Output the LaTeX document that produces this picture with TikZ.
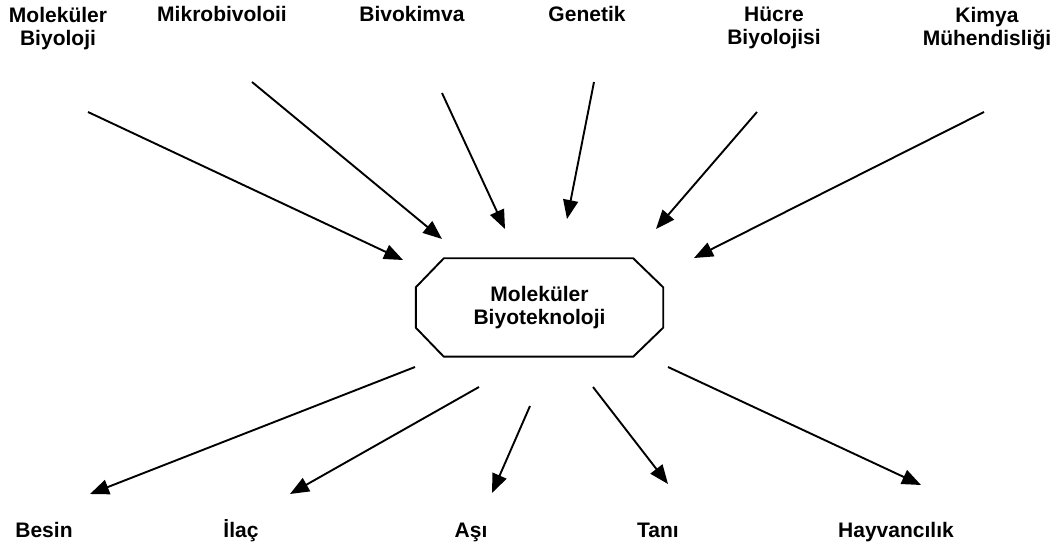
\documentclass[tikz,border=0pt]{standalone}
\usepackage{fontspec}
\setmainfont{Liberation Sans}
\usetikzlibrary{arrows.meta}

\tikzset{
  label/.style={inner sep=0pt, font=\fontsize{21}{23.5}\selectfont\bfseries, align=center},
  flow/.style={line width=1.9pt, -{Triangle[length=19pt,width=15pt]}},
  rim/.style={line width=1.9pt, line join=miter}
}

\begin{document}
\begin{tikzpicture}[x=1pt, y=-1pt]
  \useasboundingbox (0,0) rectangle (1061,545);

  % source fields
  \node[label, anchor=north] (molbio)  at (58,6.7)   {Moleküler\\Biyoloji};
  \node[label, anchor=base]  (mikro)   at (222,22)   {Mikrobivoloii};
  \node[label, anchor=base]  (biyokim) at (412,22)   {Bivokimva};
  \node[label, anchor=base]  (genetik) at (587,22)   {Genetik};
  \node[label, anchor=north] (hucre)   at (774,6.7)  {Hücre\\Biyolojisi};
  \node[label, anchor=north] (kimya)   at (987,6.7)  {Kimya\\Mühendisliği};

  % application fields
  \node[label, anchor=base] (besin) at (44,537)  {Besin};
  \node[label, anchor=base] (ilac)  at (241,537) {İlaç};
  \node[label, anchor=base] (asi)   at (471,537) {Aşı};
  \node[label, anchor=base] (tani)  at (658,537) {Tanı};
  \node[label, anchor=base] (hayv)  at (896,537) {Hayvancılık};

  % central octagon
  \node[label, minimum width=247pt, minimum height=98pt] (core) at (539.5,307.5)
    {Moleküler\\Biyoteknoloji};
  \draw[rim] ([xshift=28pt]core.north west) -- ([xshift=-30pt]core.north east)
    -- ([yshift=-29pt]core.north east) -- ([yshift=29pt]core.south east)
    -- ([xshift=-30pt]core.south east) -- ([xshift=28pt]core.south west)
    -- ([yshift=29pt]core.south west) -- ([yshift=-29pt]core.north west) -- cycle;

  % arrow ends, incoming
  \coordinate (s1) at (88,112);   \coordinate (t1) at (403,260);
  \coordinate (s2) at (252,82);   \coordinate (t2) at (442,239);
  \coordinate (s3) at (442,93);   \coordinate (t3) at (505,229);
  \coordinate (s4) at (594,82);   \coordinate (t4) at (567,219);
  \coordinate (s5) at (757,112);  \coordinate (t5) at (656,229);
  \coordinate (s6) at (984,112);  \coordinate (t6) at (694,258);

  % arrow ends, outgoing
  \coordinate (u1) at (415,367);  \coordinate (v1) at (90,494);
  \coordinate (u2) at (479,387);  \coordinate (v2) at (290,494);
  \coordinate (u3) at (530,406);  \coordinate (v3) at (492,493);
  \coordinate (u4) at (593,387);  \coordinate (v4) at (668,484);
  \coordinate (u5) at (668,367);  \coordinate (v5) at (921,485);

  \foreach \i in {1,...,6} { \draw[flow] (s\i) -- (t\i); }
  \foreach \i in {1,...,5} { \draw[flow] (u\i) -- (v\i); }
\end{tikzpicture}
\end{document}
